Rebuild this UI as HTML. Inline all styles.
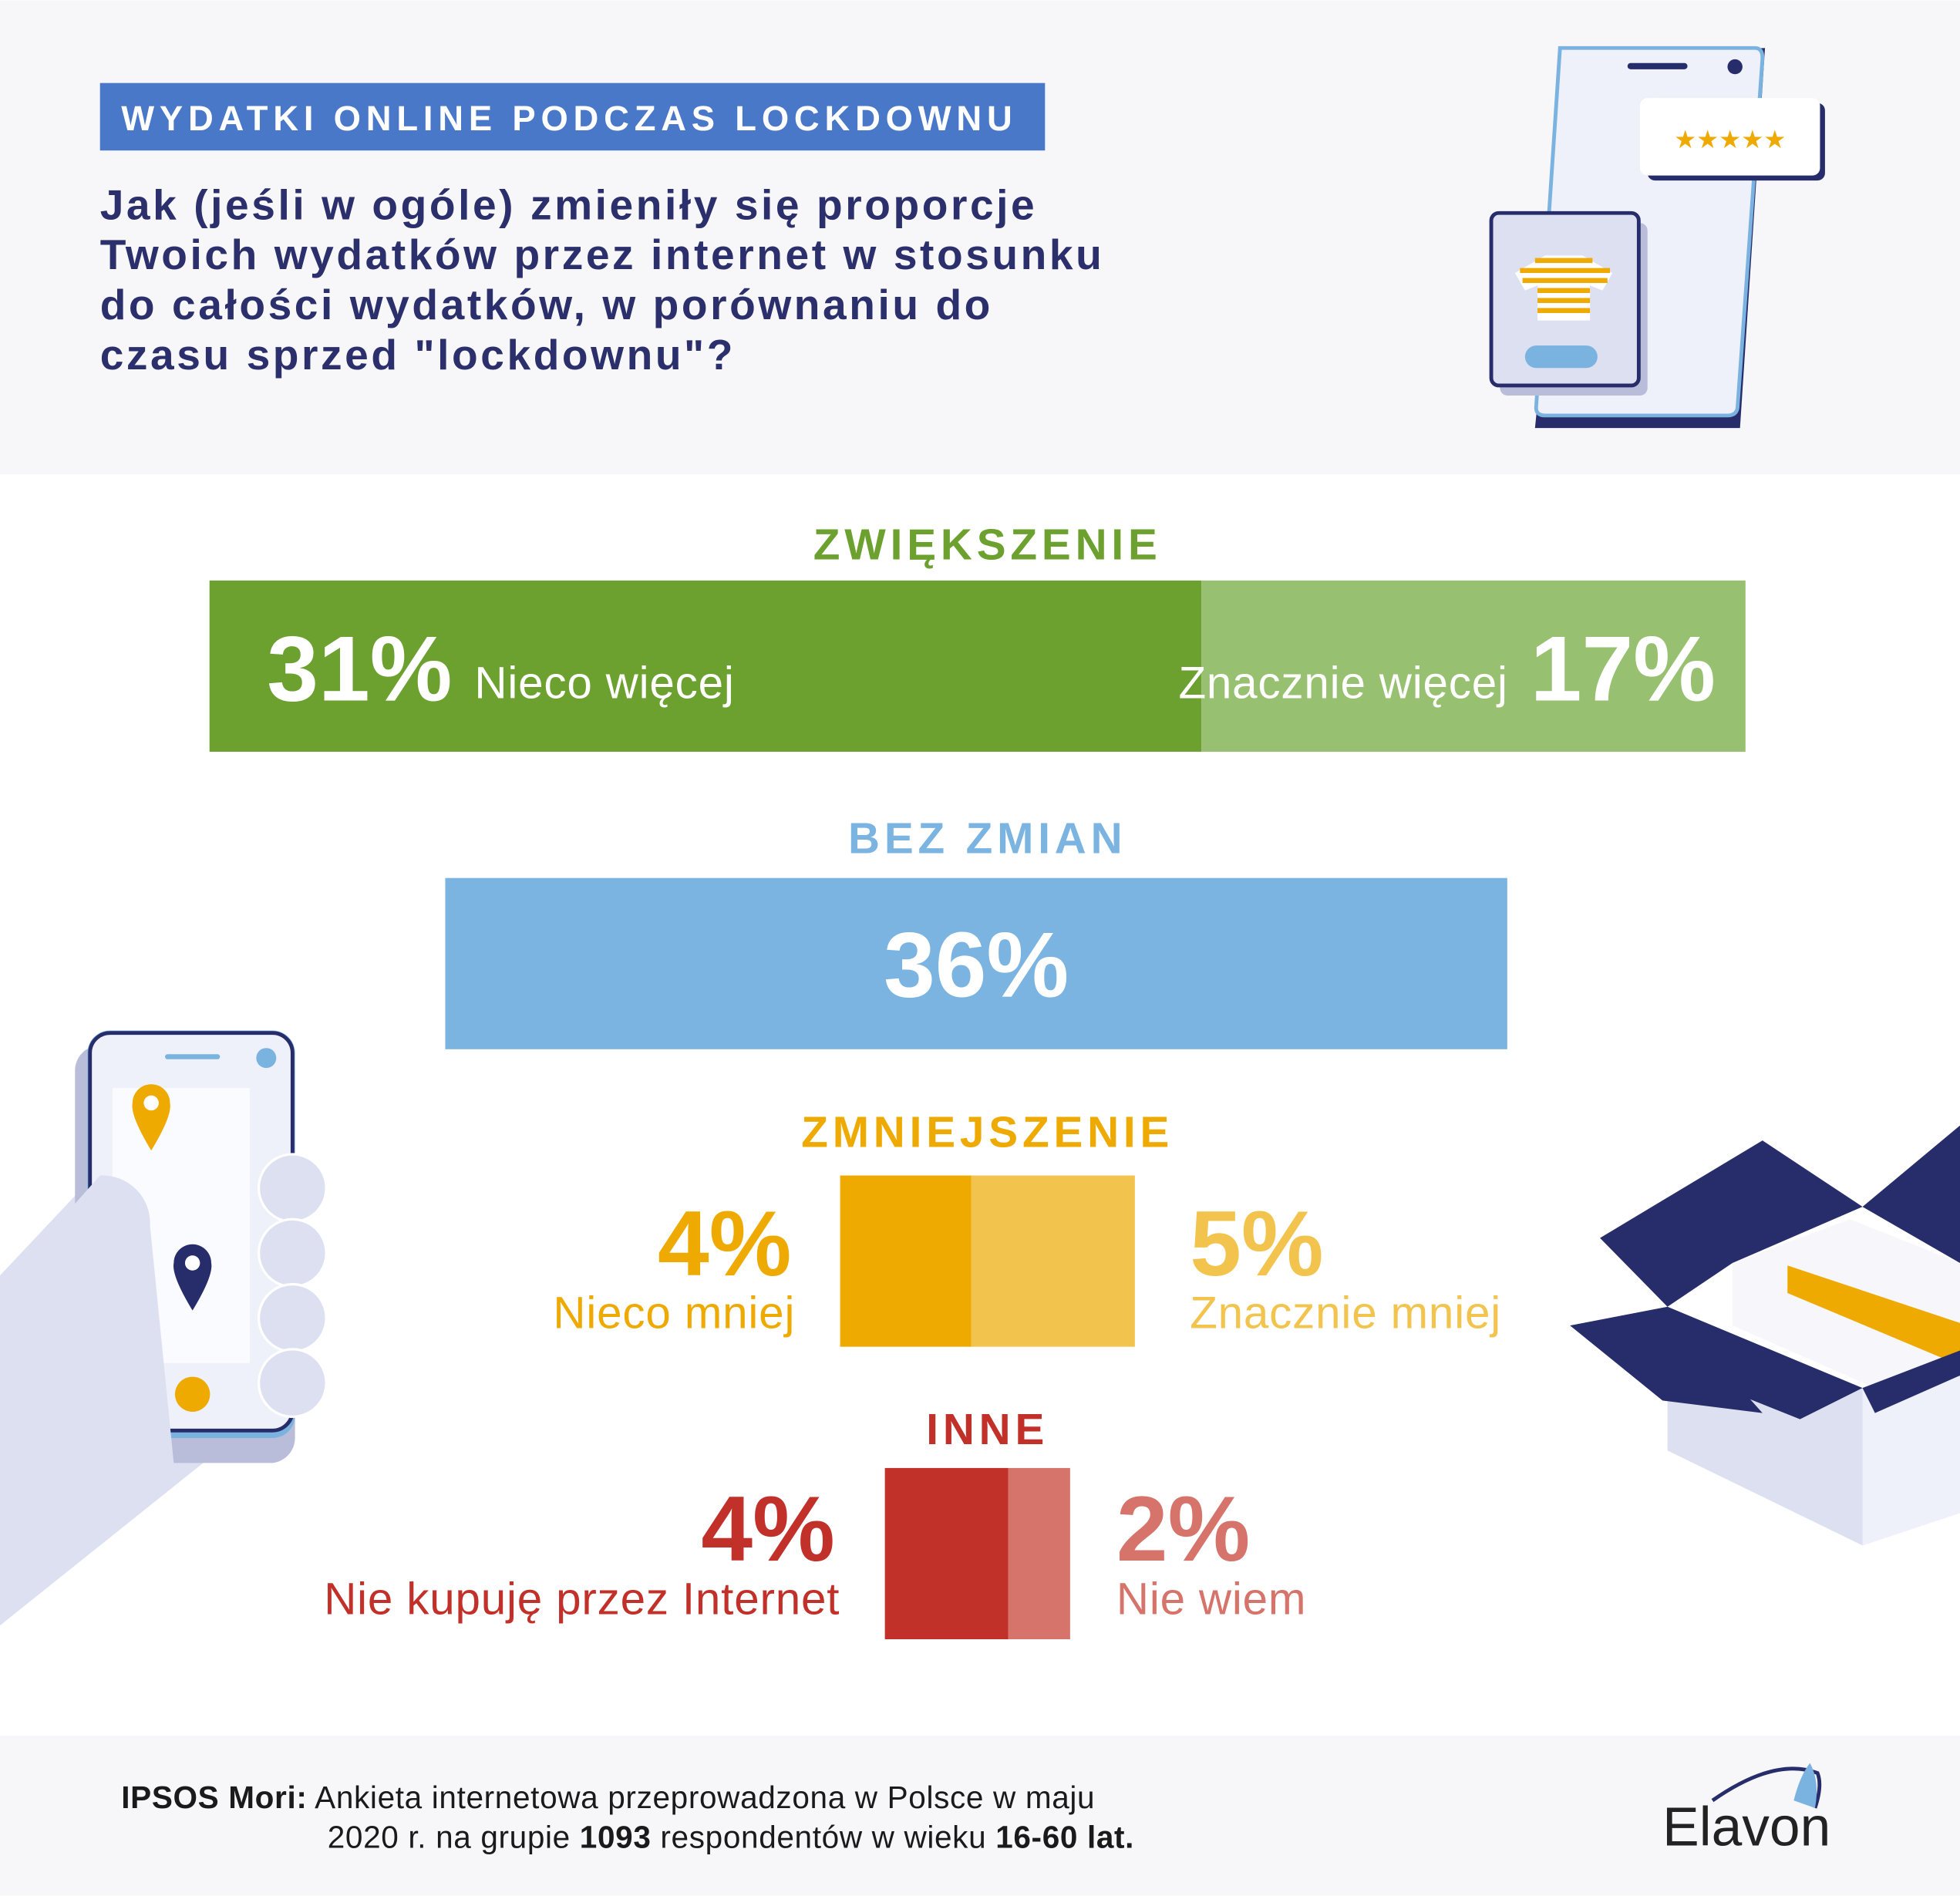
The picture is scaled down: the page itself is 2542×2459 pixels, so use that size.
<!DOCTYPE html>
<html><head><meta charset="utf-8">
<style>
html,body{margin:0;padding:0;background:#fff;}
svg{display:block;font-family:"Liberation Sans",sans-serif;}
</style></head>
<body>
<svg id="chart" width="2542" height="2459" viewBox="0 0 1568 1516" xmlns="http://www.w3.org/2000/svg">
<rect x="0" y="0" width="1568" height="379" fill="#f7f6f9"/>
<rect x="0" y="1388" width="1568" height="128" fill="#f7f6f9"/>
<rect x="80" y="66" width="756" height="54" fill="#4a78c9"/>
<text x="97" y="104" font-size="28" font-weight="bold" fill="#fff" letter-spacing="4.2">WYDATKI ONLINE PODCZAS LOCKDOWNU</text>
<g font-size="34" font-weight="bold" fill="#2b2f6b" letter-spacing="2.2">
<text x="80" y="175">Jak (jeśli w ogóle) zmieniły się proporcje</text>
<text x="80" y="215">Twoich wydatków przez internet w stosunku</text>
<text x="80" y="255">do całości wydatków, w porównaniu do</text>
<text x="80" y="295">czasu sprzed "lockdownu"?</text>
</g>
<!-- top phone illustration -->
<g>
<path d="M1258 44 L1412 38 L1392 342 L1228 342 Z" fill="#262d6a"/>
<path d="M1248 38 L1404 38 Q1410 38 1410 46 L1390 326 Q1389 332 1382 332 L1236 332 Q1228 332 1229 324 Z" fill="#eef0fa" stroke="#7ab3e0" stroke-width="3"/>
<rect x="1302" y="50" width="48" height="5" rx="2.5" fill="#262d6a"/>
<circle cx="1388" cy="53" r="6" fill="#262d6a"/>
<rect x="1318" y="82" width="142" height="62" rx="6" fill="#262d6a"/>
<rect x="1312" y="78" width="144" height="62" rx="6" fill="#fff"/>
<text x="1384" y="118" font-size="20" fill="#eeaa00" text-anchor="middle">★★★★★</text>
<rect x="1200" y="178" width="118" height="138" rx="6" fill="#b9bdd9"/>
<rect x="1193" y="170" width="118" height="138" rx="6" fill="#dde0f0" stroke="#262d6a" stroke-width="3"/>
<path d="M1236 204 L1266 204 L1290 218 L1282 232 L1272 228 L1272 256 L1230 256 L1230 228 L1220 232 L1212 218 Z" fill="#fff"/>
<g fill="#eeaa00"><rect x="1228" y="206" width="46" height="4"/><rect x="1216" y="214" width="72" height="4"/><rect x="1218" y="222" width="68" height="4"/><rect x="1230" y="230" width="42" height="4"/><rect x="1230" y="238" width="42" height="4"/><rect x="1230" y="246" width="42" height="4"/></g>
<rect x="1220" y="276" width="58" height="18" rx="9" fill="#7ab3e0"/>
</g>
<!-- left hand phone -->
<g>
<path d="M0 1020 L80 935 L130 960 L200 1140 L0 1300 Z" fill="#dde0f0"/>
<rect x="60" y="836" width="176" height="334" rx="20" fill="#b9bdd9"/>
<rect x="70" y="824" width="166" height="326" rx="18" fill="#7ab3e0"/>
<rect x="72" y="826" width="162" height="318" rx="16" fill="#eef0fa" stroke="#262d6a" stroke-width="3"/>
<rect x="132" y="843" width="44" height="4" rx="2" fill="#7ab3e0"/>
<circle cx="213" cy="846" r="8" fill="#7ab3e0"/>
<rect x="90" y="870" width="110" height="220" fill="#fff" opacity="0.7"/>
<path d="M121 920 Q104 892 106 882 A15 15 0 1 1 136 882 Q138 892 121 920Z" fill="#eeaa00"/><circle cx="121" cy="882" r="6" fill="#fff"/>
<path d="M154 1048 Q137 1020 139 1010 A15 15 0 1 1 169 1010 Q171 1020 154 1048Z" fill="#262d6a"/><circle cx="154" cy="1010" r="6" fill="#fff"/>
<circle cx="154" cy="1115" r="14" fill="#eeaa00"/>
<path d="M0 1030 L80 940 A38 38 0 0 1 120 980 L140 1180 L0 1300Z" fill="#dde0f0"/>
<g fill="#dde0f0" stroke="#fff" stroke-width="2"><circle cx="234" cy="950" r="27"/><circle cx="234" cy="1002" r="27"/><circle cx="234" cy="1054" r="27"/><circle cx="234" cy="1106" r="27"/></g>
</g>
<!-- box -->
<g>
<path d="M1334 1045 L1490 1110 L1568 1080 L1568 1210 L1490 1236 L1334 1160 Z" fill="#dde0f0"/>
<path d="M1490 1110 L1568 1080 L1568 1210 L1490 1236 Z" fill="#eef0fa"/>
<path d="M1386 1010 L1480 975 L1568 1010 L1568 1080 L1500 1110 L1386 1060 Z" fill="#f7f6fb"/>
<path d="M1430 1012 L1568 1058 L1568 1092 L1430 1034 Z" fill="#eeaa00"/>
<path d="M1280 990 L1410 912 L1490 965 L1386 1010 L1334 1045 Z" fill="#262d6a"/>
<path d="M1256 1060 L1334 1045 L1410 1130 L1330 1120 Z" fill="#262d6a"/>
<path d="M1334 1045 L1490 1110 L1440 1135 L1290 1075 Z" fill="#262d6a"/>
<path d="M1490 965 L1568 900 L1568 1010 Z" fill="#262d6a"/>
<path d="M1490 1110 L1568 1080 L1568 1100 L1500 1130 Z" fill="#262d6a"/>
</g>
<g id="bars"></g>
<g font-size="25" fill="#1a1a1a" letter-spacing="0.4">
<text x="97" y="1446"><tspan font-weight="bold">IPSOS Mori:</tspan> Ankieta internetowa przeprowadzona w Polsce w maju</text>
<text x="262" y="1478">2020 r. na grupie <tspan font-weight="bold">1093</tspan> respondentów w wieku <tspan font-weight="bold">16-60 lat.</tspan></text>
</g>
<g>
<path d="M1370 1440 Q1420 1405 1454 1418 Q1458 1428 1452 1446" fill="none" stroke="#262d6a" stroke-width="3"/>
<path d="M1435 1440 Q1440 1420 1448 1410 Q1456 1425 1452 1446" fill="#7ab3e0"/>
<text x="1330" y="1476" font-size="44" fill="#222">Elavon</text>
</g>
<script>
const categories = ["ZWIĘKSZENIE","BEZ ZMIAN","ZMNIEJSZENIE","INNE"];
const increaseValues = [31, 17];
const increaseLabels = ["Nieco więcej","Znacznie więcej"];
const unchangedValues = [36];
const decreaseValues = [4, 5];
const decreaseLabels = ["Nieco mniej","Znacznie mniej"];
const otherValues = [4, 2];
const otherLabels = ["Nie kupuję przez Internet","Nie wiem"];

const NS = "http://www.w3.org/2000/svg";
const g = document.getElementById("bars");
function el(tag, attrs, text){
  const e = document.createElementNS(NS, tag);
  for (const k in attrs) e.setAttribute(k, attrs[k]);
  if (text !== undefined) e.textContent = text;
  g.appendChild(e);
  return e;
}
function row(vals, y, h, colors, K, cx){
  const total = vals.reduce((a,b)=>a+b,0);
  let x = cx - total*K/2;
  const xs = [];
  vals.forEach((v,i)=>{
    const r = el("rect",{x:x,y:y,width:v*K,height:h,fill:colors[i]});
    
    
    xs.push([x, x+v*K]);
    x += v*K;
  });
  return xs;
}
function heading(txt, y, color){
  const t = el("text",{x:790,y:y,"font-size":35,"font-weight":"bold",fill:color,"text-anchor":"middle","letter-spacing":"3.6"},txt);
  
  
}
const BIG = 74, LBL = 36;
// increase
heading(categories[0], 447, "#6ca130");
let xs = row(increaseValues, 464, 137, ["#6ca130","#98c071"], 25.6, 782);
let t = el("text",{x:xs[0][0]+46,y:560,fill:"#fff","font-weight":"bold","font-size":BIG},increaseValues[0]+"%");
 
t = el("text",{x:xs[0][0]+212,y:558,fill:"#fff","font-size":LBL,"letter-spacing":"0.5"},increaseLabels[0]);
 
t = el("text",{x:xs[1][1]-24,y:560,fill:"#fff","font-weight":"bold","font-size":BIG,"text-anchor":"end"},increaseValues[1]+"%");
 
t = el("text",{x:xs[1][1]-190,y:558,fill:"#fff","font-size":LBL,"text-anchor":"end","letter-spacing":"0.5"},increaseLabels[1]);
 
// unchanged
heading(categories[1], 682, "#7bb4e1");
xs = row(unchangedValues, 702, 137, ["#7bb4e1"], 23.6, 781);
t = el("text",{x:(xs[0][0]+xs[0][1])/2,y:797,fill:"#fff","font-weight":"bold","font-size":BIG,"text-anchor":"middle"},unchangedValues[0]+"%");
 
// decrease
heading(categories[2], 917, "#eeaa00");
xs = row(decreaseValues, 940, 137, ["#eeaa00","#f2c44d"], 26.2, 790);
t = el("text",{x:xs[0][0]-39,y:1020,fill:"#eeaa00","font-weight":"bold","font-size":BIG,"text-anchor":"end"},decreaseValues[0]+"%");
 
t = el("text",{x:xs[0][0]-36,y:1062,fill:"#eeaa00","font-size":LBL,"text-anchor":"end","letter-spacing":"0.5"},decreaseLabels[0]);
 
t = el("text",{x:xs[1][1]+44,y:1020,fill:"#f2c44d","font-weight":"bold","font-size":BIG},decreaseValues[1]+"%");
 
t = el("text",{x:xs[1][1]+44,y:1062,fill:"#f2c44d","font-size":LBL,"letter-spacing":"0.5"},decreaseLabels[1]);
 
// other
heading(categories[3], 1155, "#c2302a");
xs = row(otherValues, 1174, 137, ["#c2302a","#d6736a"], 24.7, 782);
t = el("text",{x:xs[0][0]-40,y:1248,fill:"#c2302a","font-weight":"bold","font-size":BIG,"text-anchor":"end"},otherValues[0]+"%");
 
t = el("text",{x:xs[0][0]-36,y:1291,fill:"#c2302a","font-size":LBL,"text-anchor":"end","letter-spacing":"0.5"},otherLabels[0]);
 
t = el("text",{x:xs[1][1]+37,y:1248,fill:"#d6736a","font-weight":"bold","font-size":BIG},otherValues[1]+"%");
 
t = el("text",{x:xs[1][1]+37,y:1291,fill:"#d6736a","font-size":LBL,"letter-spacing":"0.5"},otherLabels[1]);
 
</script>
</svg>
</body></html>
